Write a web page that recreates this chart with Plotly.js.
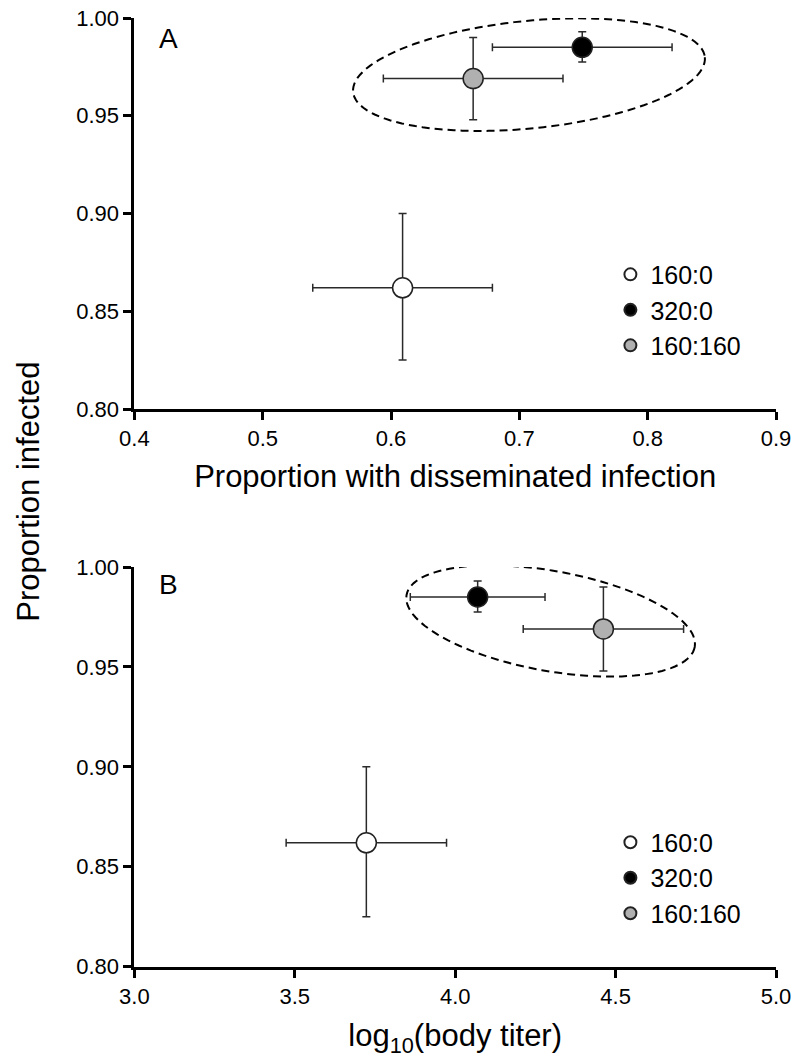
<!DOCTYPE html>
<html><head><meta charset="utf-8">
<script src="https://cdn.plot.ly/plotly-3.0.1.min.js"></script>
<style>html,body{margin:0;padding:0;background:#fff}</style>
</head><body><div id="chart" style="width:800px;height:1062px"></div>
<script>
const groups = ['160:0', '320:0', '160:160'];
const fillColors = ['#ffffff', '#000000', '#b0b0b0'];
const propInfected = [0.862, 0.985, 0.969];
const propInfectedErrPlus = [0.038, 0.008, 0.021];
const propInfectedErrMinus = [0.037, 0.0075, 0.021];
const propDisseminated = [0.609, 0.749, 0.664];
const propDisseminatedErr = [0.07, 0.07, 0.07];
const log10BodyTiter = [3.723, 4.070, 4.462];
const log10BodyTiterErr = [0.25, 0.21, 0.25];
const yTicks = [0.80, 0.85, 0.90, 0.95, 1.00];
const xTicksA = [0.4, 0.5, 0.6, 0.7, 0.8, 0.9];
const xTicksB = [3.0, 3.5, 4.0, 4.5, 5.0];
// dashed grouping ellipses: centre and semi-axis vectors, in data units
const ellipseA = {cx: 0.7075, cy: 0.97102, ux: 0.13706, uy: 0.008926, vx: 0.00415, vy: -0.02737};
const ellipseB = {cx: 4.2975, cy: 0.973, ux: 0.4491, uy: -0.01301, vx: -0.02755, vy: -0.02462};

const FONT = 'Liberation Sans, Arial, Helvetica, sans-serif';

function ellipsePath(e) {
  const n = 120;
  let d = '';
  for (let k = 0; k <= n; k++) {
    const t = 2 * Math.PI * k / n;
    const x = e.cx + e.ux * Math.cos(t) + e.vx * Math.sin(t);
    const y = e.cy + e.uy * Math.cos(t) + e.vy * Math.sin(t);
    d += (k === 0 ? 'M' : 'L') + x + ',' + y + ' ';
  }
  return d + 'Z';
}

const errStyle = {color: '#2a2a2a', thickness: 1.5, width: 4};
const traces = [];
for (let i = 0; i < groups.length; i++) {
  const marker = {size: 20, color: fillColors[i], line: {color: '#222222', width: 1.5}};
  traces.push({
    type: 'scatter', mode: 'markers', name: groups[i],
    x: [propDisseminated[i]], y: [propInfected[i]],
    xaxis: 'x', yaxis: 'y', legend: 'legend',
    marker: marker,
    error_x: Object.assign({type: 'data', array: [propDisseminatedErr[i]], symmetric: true}, errStyle),
    error_y: Object.assign({type: 'data', array: [propInfectedErrPlus[i]], arrayminus: [propInfectedErrMinus[i]], symmetric: false}, errStyle)
  });
}
for (let i = 0; i < groups.length; i++) {
  const marker = {size: 20, color: fillColors[i], line: {color: '#222222', width: 1.5}};
  traces.push({
    type: 'scatter', mode: 'markers', name: groups[i],
    x: [log10BodyTiter[i]], y: [propInfected[i]],
    xaxis: 'x2', yaxis: 'y2', legend: 'legend2',
    marker: marker,
    error_x: Object.assign({type: 'data', array: [log10BodyTiterErr[i]], symmetric: true}, errStyle),
    error_y: Object.assign({type: 'data', array: [propInfectedErrPlus[i]], arrayminus: [propInfectedErrMinus[i]], symmetric: false}, errStyle)
  });
}

const axisBase = {
  showline: true, linecolor: '#000', linewidth: 3,
  ticks: 'outside', ticklen: 8, tickwidth: 3, tickcolor: '#000',
  showgrid: false, zeroline: false, fixedrange: true,
  tickfont: {family: FONT, size: 22, color: '#000'}
};
const legendBase = {
  xanchor: 'left', yanchor: 'middle', x: 0.763,
  font: {family: FONT, size: 25, color: '#000'},
  bgcolor: 'rgba(0,0,0,0)', borderwidth: 0, itemsizing: 'constant', tracegroupgap: 0
};

const layout = {
  width: 800, height: 1062,
  margin: {l: 0, r: 0, t: 0, b: 0},
  paper_bgcolor: '#fff', plot_bgcolor: '#fff',
  font: {family: FONT, color: '#000'},
  showlegend: true,
  xaxis: Object.assign({}, axisBase, {
    domain: [0.168, 0.97], anchor: 'y', range: [0.4, 0.9],
    tickvals: xTicksA, tickformat: '.1f',
    title: {text: 'Proportion with disseminated infection', font: {family: FONT, size: 31, color: '#000'}, standoff: 15}
  }),
  yaxis: Object.assign({}, axisBase, {
    domain: [0.61488, 0.98305], anchor: 'x', range: [0.8, 1.0],
    tickvals: yTicks, tickformat: '.2f'
  }),
  xaxis2: Object.assign({}, axisBase, {
    domain: [0.168, 0.97], anchor: 'y2', range: [3, 5],
    tickvals: xTicksB, tickformat: '.1f',
    title: {text: 'log<sub>10</sub>(body titer)', font: {family: FONT, size: 31, color: '#000'}, standoff: 17}
  }),
  yaxis2: Object.assign({}, axisBase, {
    domain: [0.08974, 0.46610], anchor: 'x2', range: [0.8, 1.0],
    tickvals: yTicks, tickformat: '.2f'
  }),
  legend: Object.assign({}, legendBase, {y: 0.708}),
  legend2: Object.assign({}, legendBase, {y: 0.1733}),
  shapes: [
    {type: 'path', xref: 'x', yref: 'y', path: ellipsePath(ellipseA), line: {color: '#000', width: 2, dash: '8px,5px'}, layer: 'below'},
    {type: 'path', xref: 'x2', yref: 'y2', path: ellipsePath(ellipseB), line: {color: '#000', width: 2, dash: '8px,5px'}, layer: 'below'}
  ],
  annotations: [
    {text: 'Proportion infected', xref: 'paper', yref: 'paper', x: 0.03625, y: 0.5370,
     xanchor: 'center', yanchor: 'middle', textangle: -90, showarrow: false,
     font: {family: FONT, size: 31, color: '#000'}},
    {text: 'A', xref: 'paper', yref: 'paper', x: 0.211, y: 0.9633, xanchor: 'center', yanchor: 'middle',
     showarrow: false, font: {family: FONT, size: 28, color: '#000'}},
    {text: 'B', xref: 'paper', yref: 'paper', x: 0.211, y: 0.4492, xanchor: 'center', yanchor: 'middle',
     showarrow: false, font: {family: FONT, size: 28, color: '#000'}}
  ]
};

Plotly.newPlot('chart', traces, layout, {staticPlot: true, displayModeBar: false});
</script>
</body></html>
